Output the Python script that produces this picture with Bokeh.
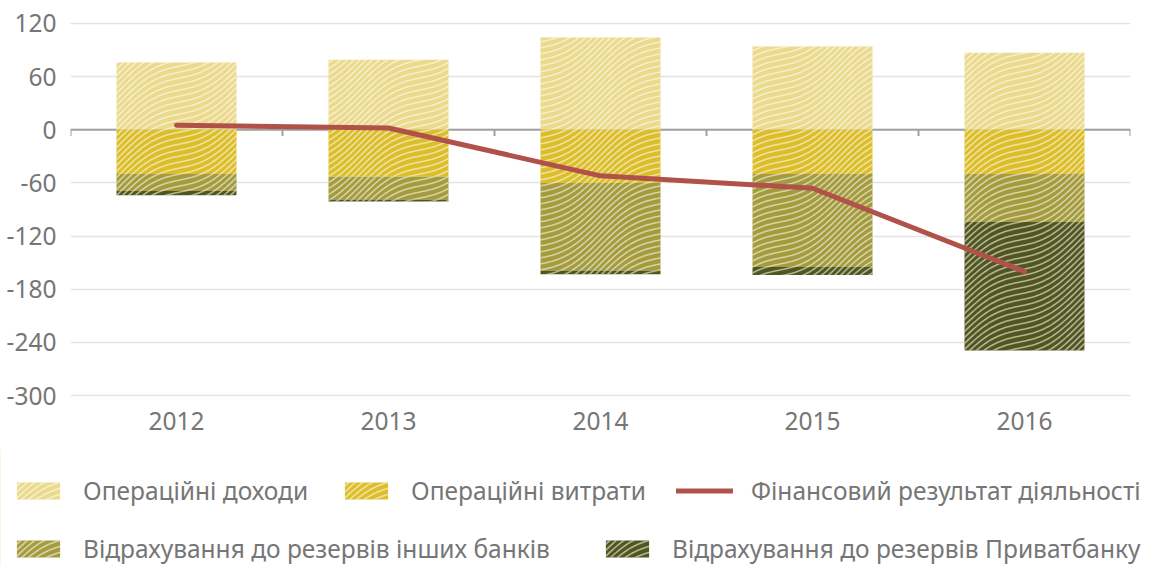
import base64
import math
import numpy as np
from bokeh.plotting import figure
from bokeh.core.properties import value
from bokeh.models import (Range1d, FixedTicker, Span, Legend, LegendItem, ColumnDataSource,
                          ImageURLTexture)
from bokeh.embed import file_html
from bokeh.resources import INLINE

# ---- data ----
years = ["2012", "2013", "2014", "2015", "2016"]
op_income = [76, 79, 104, 94, 87]            # Операційні доходи
op_expense = [-50, -53, -60, -50, -50]       # Операційні витрати
reserves_other = [-19, -26, -99, -105, -54]  # Відрахування до резервів інших банків
reserves_privat = [-5, -2, -4, -9, -145]     # Відрахування до резервів Приватбанку
fin_result = [5, 2, -52, -66, -160]          # Фінансовий результат діяльності
y_ticks = [-300, -240, -180, -120, -60, 0, 60, 120]

labels = ["Операційні доходи", "Операційні витрати", "Фінансовий результат діяльності",
          "Відрахування до резервів інших банків", "Відрахування до резервів Приватбанку"]

FONT = "Noto Sans"
TXT = "#767676"
FS = "24.5px"

# ---- wavy line texture (decorative fill pattern) ----
TILE, GAP, SLOPE, AMP = 120, 6, 0.6, 7.6
paths = []
for k in range(-4, 36):
    pts = []
    for xi in range(-2, TILE + 3, 2):
        yv = k * GAP - (SLOPE * xi + AMP * math.sin(2 * math.pi * xi / TILE))
        pts.append(f"{xi},{yv:.2f}")
    paths.append('<polyline points="' + " ".join(pts) + '"/>')
svg_tile = (f'<svg xmlns="http://www.w3.org/2000/svg" width="{TILE}" height="{TILE}" '
            f'viewBox="0 0 {TILE} {TILE}"><g fill="none" stroke="white" stroke-opacity="0.55" '
            f'stroke-width="1.6">' + "".join(paths) + "</g></svg>")
wave_uri = "data:image/svg+xml;base64," + base64.b64encode(svg_tile.encode()).decode()

n = len(years)
x = np.arange(n)
exp_bot = np.array(op_expense, float)
oth_bot = exp_bot + np.array(reserves_other, float)
pri_bot = oth_bot + np.array(reserves_privat, float)

src = ColumnDataSource(dict(
    x=x, inc=op_income, zero=np.zeros(n),
    exp_bot=exp_bot, oth_bot=oth_bot, pri_bot=pri_bot, res=fin_result,
))

p = figure(width=1151, height=448,
           x_range=Range1d(-0.5, n - 0.5), y_range=Range1d(-301, 121),
           output_backend="svg", toolbar_location=None,
           min_border_left=70, min_border_right=21, min_border_top=22, min_border_bottom=52)
p.outline_line_color = None

p.xgrid.visible = False
p.ygrid.grid_line_color = "#e3e3e3"
p.ygrid.grid_line_width = 1.5

p.yaxis.ticker = FixedTicker(ticks=y_ticks)
p.yaxis.major_label_overrides = {t: str(t) for t in y_ticks}
p.yaxis.axis_line_color = None
p.yaxis.major_tick_line_color = None
p.yaxis.minor_tick_line_color = None
p.yaxis.major_label_standoff = 8
p.yaxis.major_label_text_font = FONT
p.yaxis.major_label_text_font_size = FS
p.yaxis.major_label_text_color = TXT

p.xaxis.ticker = FixedTicker(ticks=list(range(n)))
p.xaxis.major_label_overrides = {i: years[i] for i in range(n)}
p.xaxis.axis_line_color = None
p.xaxis.major_tick_line_color = None
p.xaxis.minor_tick_line_color = None
p.xaxis.major_label_standoff = 9
p.xaxis.major_label_text_font = FONT
p.xaxis.major_label_text_font_size = FS
p.xaxis.major_label_text_color = TXT

# zero line with category-boundary ticks
p.add_layout(Span(location=0, dimension="width", line_color="#a0a0a0", line_width=2, level="underlay"))
bx = np.arange(n + 1) - 0.5
p.segment(x0=bx, y0=np.zeros(n + 1), x1=bx, y1=np.full(n + 1, -7.0),
          line_color="#a0a0a0", line_width=2, level="underlay")

W = 0.566


def hatch():
    return dict(hatch_pattern=value("wave"),
                hatch_extra={"wave": ImageURLTexture(url=wave_uri, repetition="repeat")})


fills = ["#ebda8c", "#dcbe2b", "#a39b3c", "#51561f"]
bars = [("zero", "inc"), ("exp_bot", "zero"), ("oth_bot", "exp_bot"), ("pri_bot", "oth_bot")]
for (b, t), fc in zip(bars, fills):
    p.vbar(x="x", bottom=b, top=t, width=W, source=src, line_color=None, fill_color=fc, **hatch())
line_style = dict(line_color="#b0524a", line_width=5, line_cap="round", line_join="round")
p.line(x="x", y="res", source=src, **line_style)

# ---- legend panel (separate root so nothing is clipped or aligned) ----
q = figure(width=1151, height=117, x_range=Range1d(100, 101), y_range=Range1d(100, 101),
           output_backend="svg", toolbar_location=None,
           x_axis_location=None, y_axis_location=None,
           min_border_left=0, min_border_right=0, min_border_top=0, min_border_bottom=0)
q.grid.visible = False
q.outline_line_color = None

lr = []
for (b, t), fc in zip(bars, fills):
    lr.append(q.vbar(x="x", bottom=b, top=t, width=W, source=src, line_color=None,
                     fill_color=fc, **hatch()))
lr_line = q.line(x="x", y="res", source=src, **line_style)


def add_legend(label, renderer, loc, gw=54):
    lg = Legend(items=[LegendItem(label=label, renderers=[renderer])], location=loc,
                orientation="horizontal", glyph_width=gw, glyph_height=21, label_standoff=18,
                padding=0, margin=0, spacing=0, border_line_color=None, background_fill_alpha=0,
                label_text_font=FONT, label_text_font_size=FS, label_text_color=TXT,
                label_height=28)
    q.add_layout(lg)


ROW1 = 58
ROW2 = 0
add_legend(labels[0], lr[0], (11, ROW1))
add_legend(labels[1], lr[1], (339, ROW1))
add_legend(labels[2], lr_line, (676, ROW1), gw=57)
add_legend(labels[3], lr[2], (11, ROW2))
add_legend(labels[4], lr[3], (600, ROW2))

open("out.html", "w").write(file_html([p, q], INLINE))
